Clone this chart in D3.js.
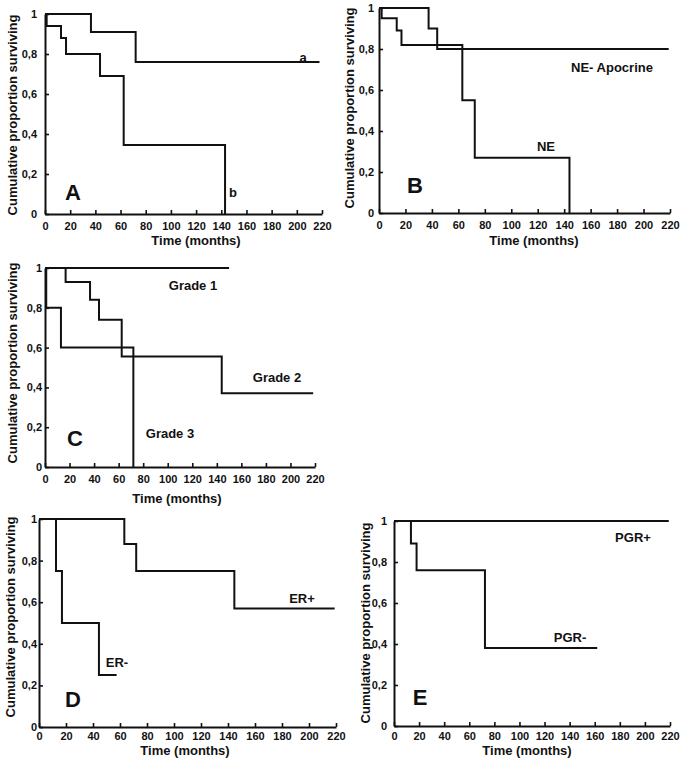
<!DOCTYPE html>
<html>
<head>
<meta charset="utf-8">
<script src="https://cdn.jsdelivr.net/npm/d3@7/dist/d3.min.js"></script>
<style>
  html, body { margin: 0; padding: 0; background: #fff; }
  svg { display: block; font-family: "Liberation Sans", Arial, sans-serif; }
</style>
</head>
<body>
<svg id="chart" width="685" height="770"></svg>
<script>
// ---- Data (months, cumulative proportion surviving) ----
const xTicks = [0, 20, 40, 60, 80, 100, 120, 140, 160, 180, 200, 220];
const yTicks = [0, 0.2, 0.4, 0.6, 0.8, 1];
const yTickLabels = ["0", "0,2", "0,4", "0,6", "0,8", "1"];
const xTitle = "Time (months)";
const yTitle = "Cumulative proportion surviving";

// Panel A
const A_a_time = [0, 36.5, 72, 218];
const A_a_surv = [1, 0.91, 0.76, 0.76];
const A_b_time = [0, 1.3, 12.7, 16.7, 43.7, 62.5, 143];
const A_b_surv = [1, 0.94, 0.88, 0.80, 0.69, 0.345, 0];
// Panel B
const B_apo_time = [0, 37.5, 44, 219];
const B_apo_surv = [1, 0.90, 0.80, 0.80];
const B_ne_time = [0, 2, 13.4, 17, 63, 72.4, 144];
const B_ne_surv = [1, 0.95, 0.89, 0.82, 0.55, 0.27, 0];
// Panel C
const C_g1_time = [0, 150];
const C_g1_surv = [1, 1];
const C_g2_time = [0, 16.8, 36.7, 44, 62.5, 144, 218.5];
const C_g2_surv = [1, 0.93, 0.84, 0.74, 0.555, 0.37, 0.37];
const C_g3_time = [0, 1, 13, 72];
const C_g3_surv = [1, 0.80, 0.60, 0];
// Panel D
const D_pos_time = [0, 63.2, 72, 144.7, 219];
const D_pos_surv = [1, 0.88, 0.75, 0.57, 0.57];
const D_neg_time = [0, 12.6, 17, 44.4, 57.5];
const D_neg_surv = [1, 0.75, 0.50, 0.25, 0.25];
// Panel E
const E_pos_time = [0, 219];
const E_pos_surv = [1, 1];
const E_neg_time = [0, 13.5, 18, 72.5, 162];
const E_neg_surv = [1, 0.89, 0.76, 0.38, 0.38];

// ---- Layout ----
const panels = [
  { letter: "A", x0: 45, x1: 322, yTop: 14, yBot: 214, xPad: 8, yPad: 8,
    xTitle: [196, 240], yTitleX: 12, yTitleY: 115, letterPos: [73, 192],
    series: [[A_a_time, A_a_surv], [A_b_time, A_b_surv]],
    labels: [["a", 303, 57], ["b", 233, 192]] },
  { letter: "B", x0: 379, x1: 670, yTop: 8, yBot: 213, xPad: 8, yPad: 5,
    xTitle: [534, 240], yTitleX: 349, yTitleY: 108, letterPos: [415, 185],
    series: [[B_apo_time, B_apo_surv], [B_ne_time, B_ne_surv]],
    labels: [["NE- Apocrine", 612, 67], ["NE", 546, 146]] },
  { letter: "C", x0: 45, x1: 315, yTop: 268, yBot: 467, xPad: 8, yPad: 3,
    xTitle: [177, 498], yTitleX: 12, yTitleY: 363, letterPos: [75, 438],
    series: [[C_g1_time, C_g1_surv], [C_g2_time, C_g2_surv], [C_g3_time, C_g3_surv]],
    labels: [["Grade 1", 193, 285], ["Grade 2", 277, 377], ["Grade 3", 170, 433]] },
  { letter: "D", x0: 39, x1: 336, yTop: 519, yBot: 727, xPad: 5, yPad: 2,
    xTitle: [185, 750], yTitleX: 10, yTitleY: 617, letterPos: [73, 699],
    series: [[D_pos_time, D_pos_surv], [D_neg_time, D_neg_surv]],
    labels: [["ER+", 302, 598], ["ER-", 117, 662]] },
  { letter: "E", x0: 394, x1: 670, yTop: 521, yBot: 726, xPad: 6, yPad: 7,
    xTitle: [527, 750], yTitleX: 365, yTitleY: 623, letterPos: [420, 697],
    series: [[E_pos_time, E_pos_surv], [E_neg_time, E_neg_surv]],
    labels: [["PGR+", 633, 537], ["PGR-", 570, 637]] }
];

const ink = "#111";
const svg = d3.select("#chart");

panels.forEach(p => {
  const g = svg.append("g");
  const x = d3.scaleLinear().domain([0, 220]).range([p.x0, p.x1]);
  const y = d3.scaleLinear().domain([0, 1]).range([p.yBot, p.yTop]);

  const xAxis = d3.axisBottom(x).tickValues(xTicks).tickFormat(d3.format("d"))
    .tickSizeInner(-4).tickSizeOuter(0).tickPadding(p.xPad);
  const yAxis = d3.axisLeft(y).tickValues(yTicks).tickFormat((d, i) => yTickLabels[i])
    .tickSizeInner(-4).tickSizeOuter(0).tickPadding(p.yPad);

  const gx = g.append("g").attr("transform", `translate(0,${p.yBot})`).call(xAxis);
  const gy = g.append("g").attr("transform", `translate(${p.x0},0)`).call(yAxis);
  [gx, gy].forEach(a => {
    a.select(".domain").attr("stroke", ink).attr("stroke-width", 2);
    a.selectAll(".tick line").attr("stroke", ink).attr("stroke-width", 1.6);
    a.selectAll(".tick text").attr("fill", ink).attr("font-size", 11).attr("font-weight", "bold")
      .attr("font-family", "'Liberation Sans', Arial, sans-serif");
  });

  // titles
  g.append("text").attr("x", p.xTitle[0]).attr("y", p.xTitle[1])
    .attr("text-anchor", "middle").attr("dominant-baseline", "central")
    .attr("font-size", 13).attr("font-weight", "bold").attr("fill", ink).text(xTitle);
  g.append("text").attr("transform", `translate(${p.yTitleX},${p.yTitleY}) rotate(-90)`)
    .attr("text-anchor", "middle").attr("dominant-baseline", "central")
    .attr("font-size", 13).attr("font-weight", "bold").attr("fill", ink).text(yTitle);

  // curves
  const line = d3.line().x(d => x(d[0])).y(d => y(d[1])).curve(d3.curveStepAfter);
  p.series.forEach(([t, s]) => {
    g.append("path").datum(t.map((v, i) => [v, s[i]]))
      .attr("d", line).attr("fill", "none").attr("stroke", ink).attr("stroke-width", 2);
  });

  // labels
  p.labels.forEach(([txt, lx, ly]) => {
    g.append("text").attr("x", lx).attr("y", ly).attr("text-anchor", "middle")
      .attr("dominant-baseline", "central").attr("font-size", 13).attr("font-weight", "bold")
      .attr("fill", ink).text(txt);
  });
  g.append("text").attr("x", p.letterPos[0]).attr("y", p.letterPos[1])
    .attr("text-anchor", "middle").attr("dominant-baseline", "central")
    .attr("font-size", 22).attr("font-weight", "bold").attr("fill", ink).text(p.letter);
});
</script>
</body>
</html>
